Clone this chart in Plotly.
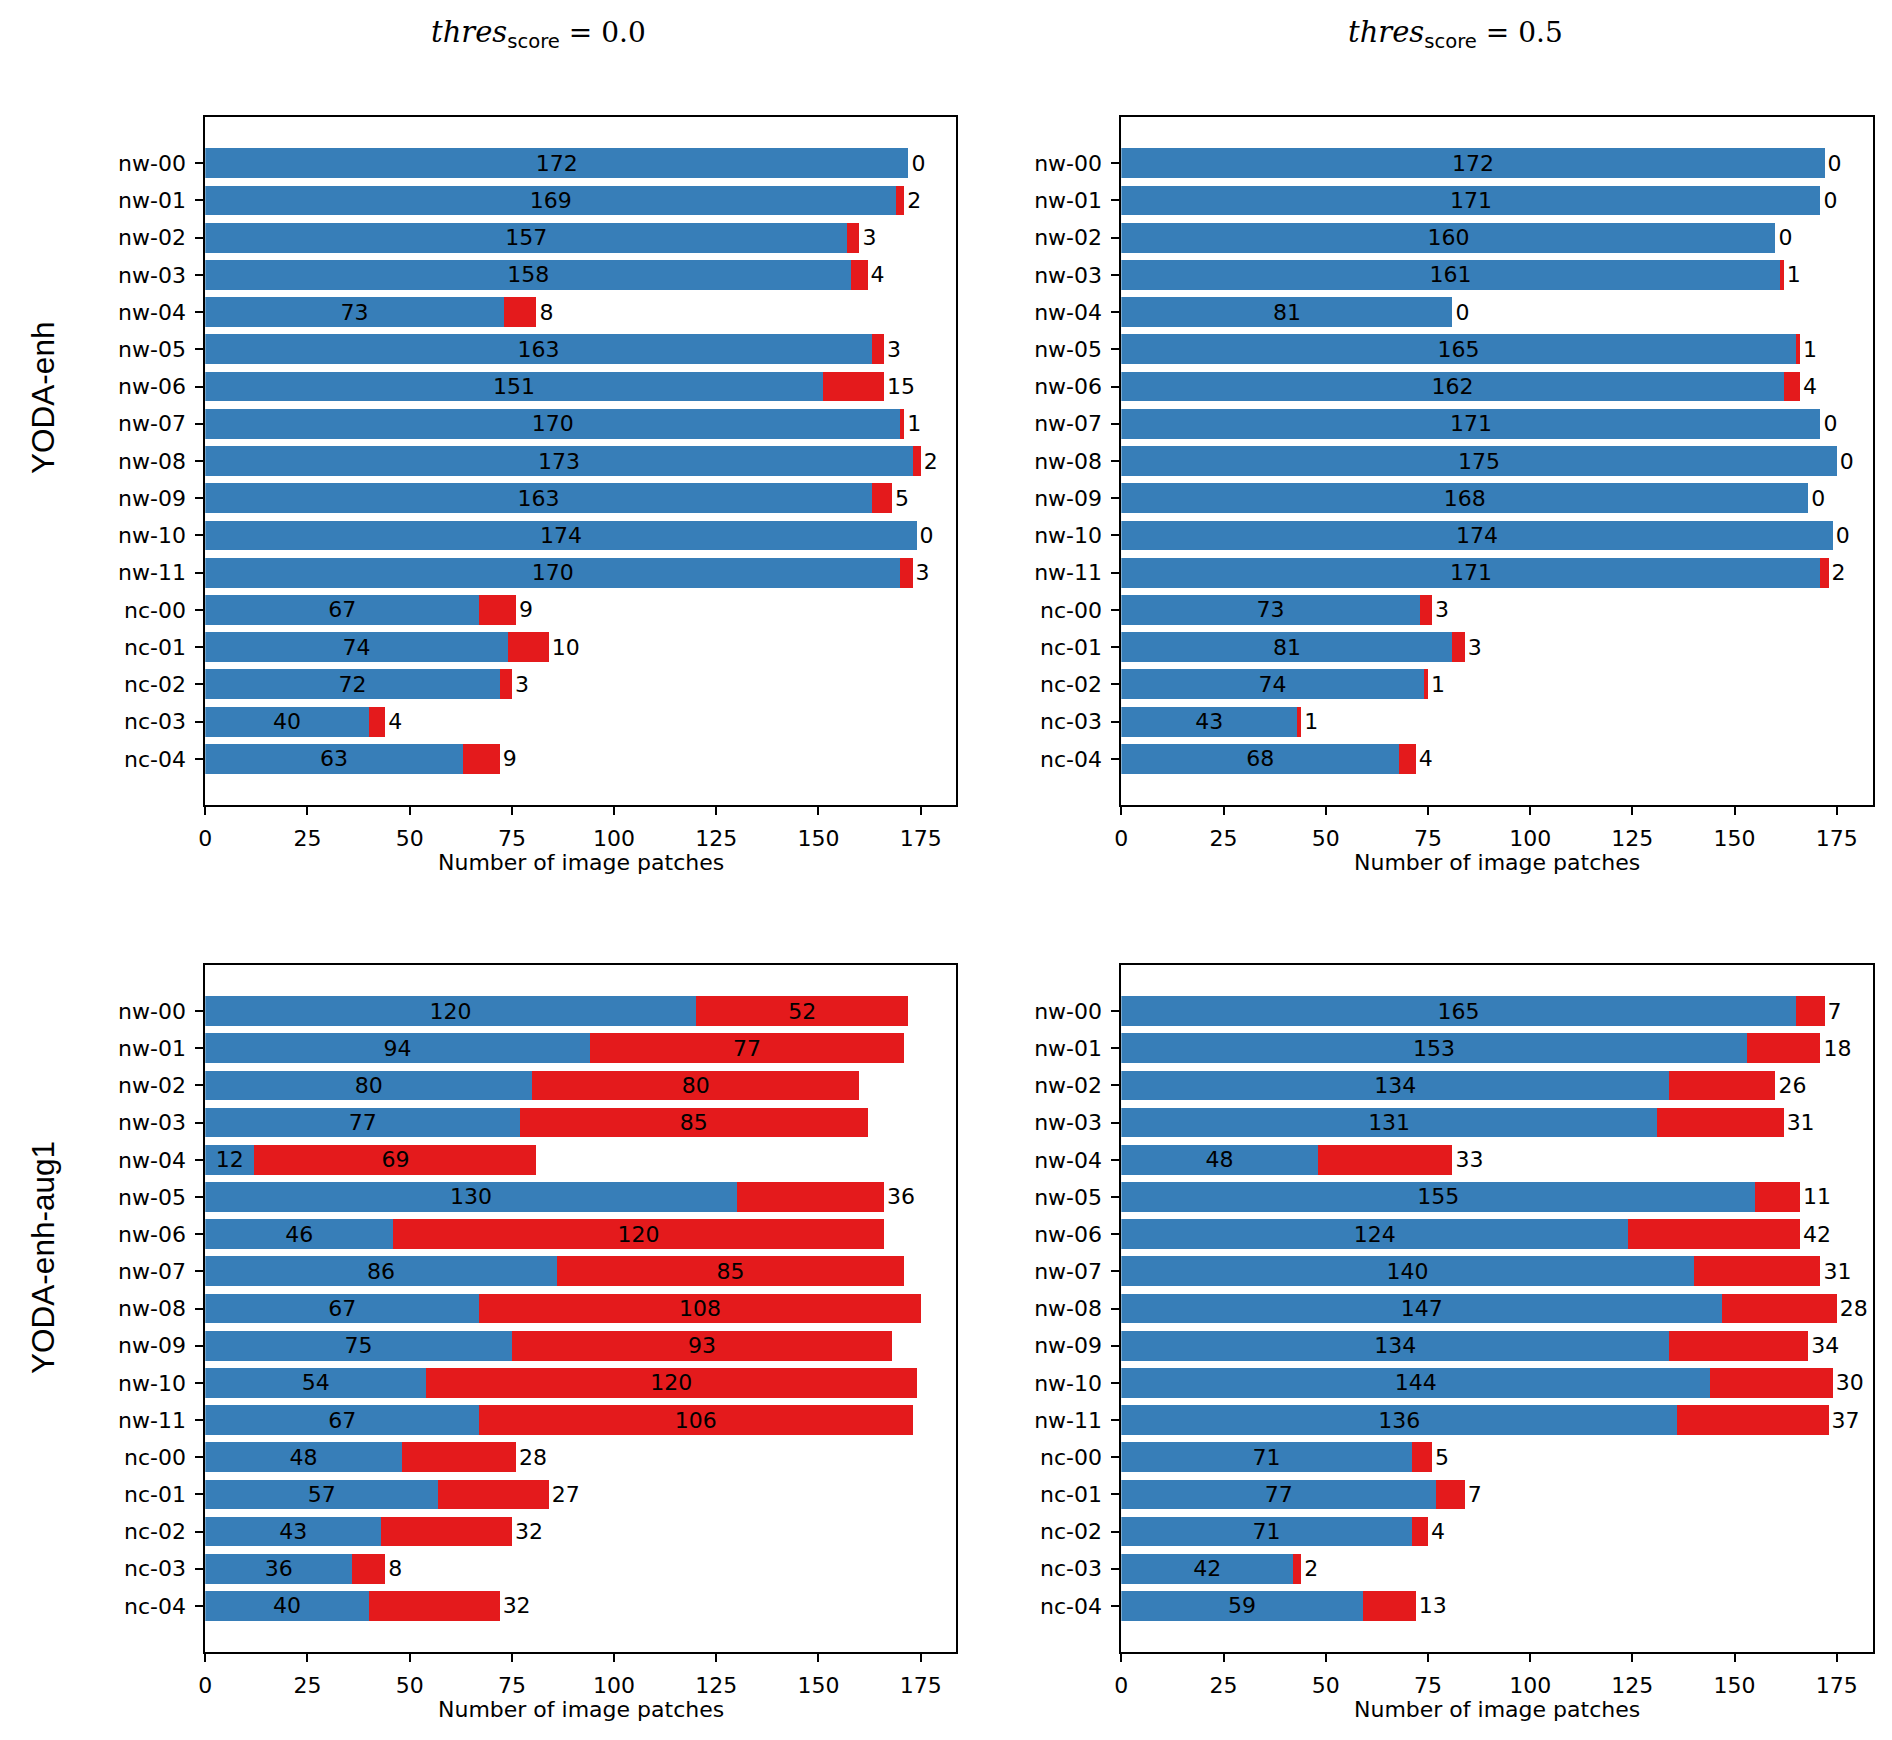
import plotly.graph_objects as go

# ---------------- data ----------------
categories = ["nw-00", "nw-01", "nw-02", "nw-03", "nw-04", "nw-05", "nw-06", "nw-07",
              "nw-08", "nw-09", "nw-10", "nw-11", "nc-00", "nc-01", "nc-02", "nc-03", "nc-04"]

# YODA-enh, thres_score = 0.0
enh_thr00_blue = [172, 169, 157, 158, 73, 163, 151, 170, 173, 163, 174, 170, 67, 74, 72, 40, 63]
enh_thr00_red = [0, 2, 3, 4, 8, 3, 15, 1, 2, 5, 0, 3, 9, 10, 3, 4, 9]

# YODA-enh, thres_score = 0.5
enh_thr05_blue = [172, 171, 160, 161, 81, 165, 162, 171, 175, 168, 174, 171, 73, 81, 74, 43, 68]
enh_thr05_red = [0, 0, 0, 1, 0, 1, 4, 0, 0, 0, 0, 2, 3, 3, 1, 1, 4]

# YODA-enh-aug1, thres_score = 0.0
aug_thr00_blue = [120, 94, 80, 77, 12, 130, 46, 86, 67, 75, 54, 67, 48, 57, 43, 36, 40]
aug_thr00_red = [52, 77, 80, 85, 69, 36, 120, 85, 108, 93, 120, 106, 28, 27, 32, 8, 32]

# YODA-enh-aug1, thres_score = 0.5
aug_thr05_blue = [165, 153, 134, 131, 48, 155, 124, 140, 147, 134, 144, 136, 71, 77, 71, 42, 59]
aug_thr05_red = [7, 18, 26, 31, 33, 11, 42, 31, 28, 34, 30, 37, 5, 7, 4, 2, 13]

x_ticks = [0, 25, 50, 75, 100, 125, 150, 175]
column_titles = ["0.0", "0.5"]
row_titles = ["YODA-enh", "YODA-enh-aug1"]
x_title = "Number of image patches"

# ---------------- style ----------------
PAGE_W, PAGE_H = 1892, 1740
OFF = 8  # default body margin of the html page
W, H = PAGE_W - 2 * OFF, PAGE_H - 2 * OFF
BLUE = "#377eb8"
RED = "#e41a1c"
FONT = "DejaVu Sans"
FS = 22


def px_x(p):
    return (p - OFF) / W


def px_y(p):
    return 1 - (p - OFF) / H


x_domains = [[px_x(199), px_x(953)], [px_x(1118.5), px_x(1872.5)]]
y_domains = [[px_y(805), px_y(117)], [px_y(1652), px_y(965)]]

fig = go.Figure()

panels = [
    (enh_thr00_blue, enh_thr00_red, 0, 0),
    (enh_thr05_blue, enh_thr05_red, 0, 1),
    (aug_thr00_blue, aug_thr00_red, 1, 0),
    (aug_thr05_blue, aug_thr05_red, 1, 1),
]

n = len(categories)
for i, (blue, red, r, c) in enumerate(panels):
    idx = i + 1
    xa = "x" if idx == 1 else f"x{idx}"
    ya = "y" if idx == 1 else f"y{idx}"
    fig.add_trace(go.Bar(
        y=categories, x=blue, orientation="h", xaxis=xa, yaxis=ya,
        marker=dict(color=BLUE, line=dict(width=0)),
        text=[str(v) for v in blue], textposition="inside", insidetextanchor="middle",
        textangle=0, constraintext="none", cliponaxis=False,
        textfont=dict(family=FONT, size=FS, color="black"),
        showlegend=False, hoverinfo="skip",
    ))
    fig.add_trace(go.Bar(
        y=categories, x=red, orientation="h", xaxis=xa, yaxis=ya,
        marker=dict(color=RED, line=dict(width=0)),
        text=[str(v) for v in red],
        textposition=["inside" if v >= 50 else "outside" for v in red],
        insidetextanchor="middle",
        textangle=0, constraintext="none", cliponaxis=False,
        textfont=dict(family=FONT, size=FS, color="black"),
        showlegend=False, hoverinfo="skip",
    ))
    axis_common = dict(
        showline=True, linecolor="black", linewidth=1.8, mirror=True,
        ticks="outside", ticklen=8, tickwidth=1.6, tickcolor="black",
        ticklabelstandoff=5,
        tickfont=dict(family=FONT, size=FS, color="black"),
        showgrid=False, zeroline=False,
    )
    fig.layout[("xaxis" if idx == 1 else f"xaxis{idx}")] = dict(
        domain=x_domains[c], anchor=ya, range=[0, 183.75],
        tickvals=x_ticks, ticktext=[str(t) for t in x_ticks], **axis_common,
    )
    fig.layout[("yaxis" if idx == 1 else f"yaxis{idx}")] = dict(
        domain=y_domains[r], anchor=xa, type="category",
        categoryorder="array", categoryarray=categories,
        range=[n - 1 + 1.24, -1.24], **axis_common,
    )

annotations = []
# column titles
for c, val in enumerate(column_titles):
    cx = [533, 1454][c]
    annotations.append(dict(
        xref="paper", yref="paper", x=px_x(cx), y=px_y(34), xanchor="center", yanchor="middle",
        showarrow=False,
        text=("<span style='font-family:DejaVu Serif;font-style:italic;font-size:29px'>thres</span>"
              "<sub><span style='font-family:DejaVu Sans;font-size:19.6px'>score</span></sub>"
              f"<span style='font-family:DejaVu Serif;font-size:28px'> = {val}</span>"),
        font=dict(family="DejaVu Serif", size=28, color="black"),
    ))
# row titles
for r, t in enumerate(row_titles):
    cy = [398, 1257][r]
    annotations.append(dict(
        xref="paper", yref="paper", x=px_x(36), y=px_y(cy), xanchor="center", yanchor="middle",
        showarrow=False, textangle=-90, text=t,
        font=dict(family="Liberation Sans", size=31.5, color="black"),
    ))
# x-axis titles
for r in range(2):
    for c in range(2):
        annotations.append(dict(
            xref="paper", yref="paper",
            x=(x_domains[c][0] + x_domains[c][1]) / 2, y=px_y([862, 1709][r]),
            xanchor="center", yanchor="middle", showarrow=False, text=x_title,
            font=dict(family=FONT, size=FS, color="black"),
        ))

fig.update_layout(
    width=W, height=H, margin=dict(l=0, r=0, t=0, b=0),
    paper_bgcolor="white", plot_bgcolor="white",
    barmode="stack", bargap=0.2,
    annotations=annotations,
    font=dict(family=FONT, color="black"),
)

fig.write_html("out.html")
